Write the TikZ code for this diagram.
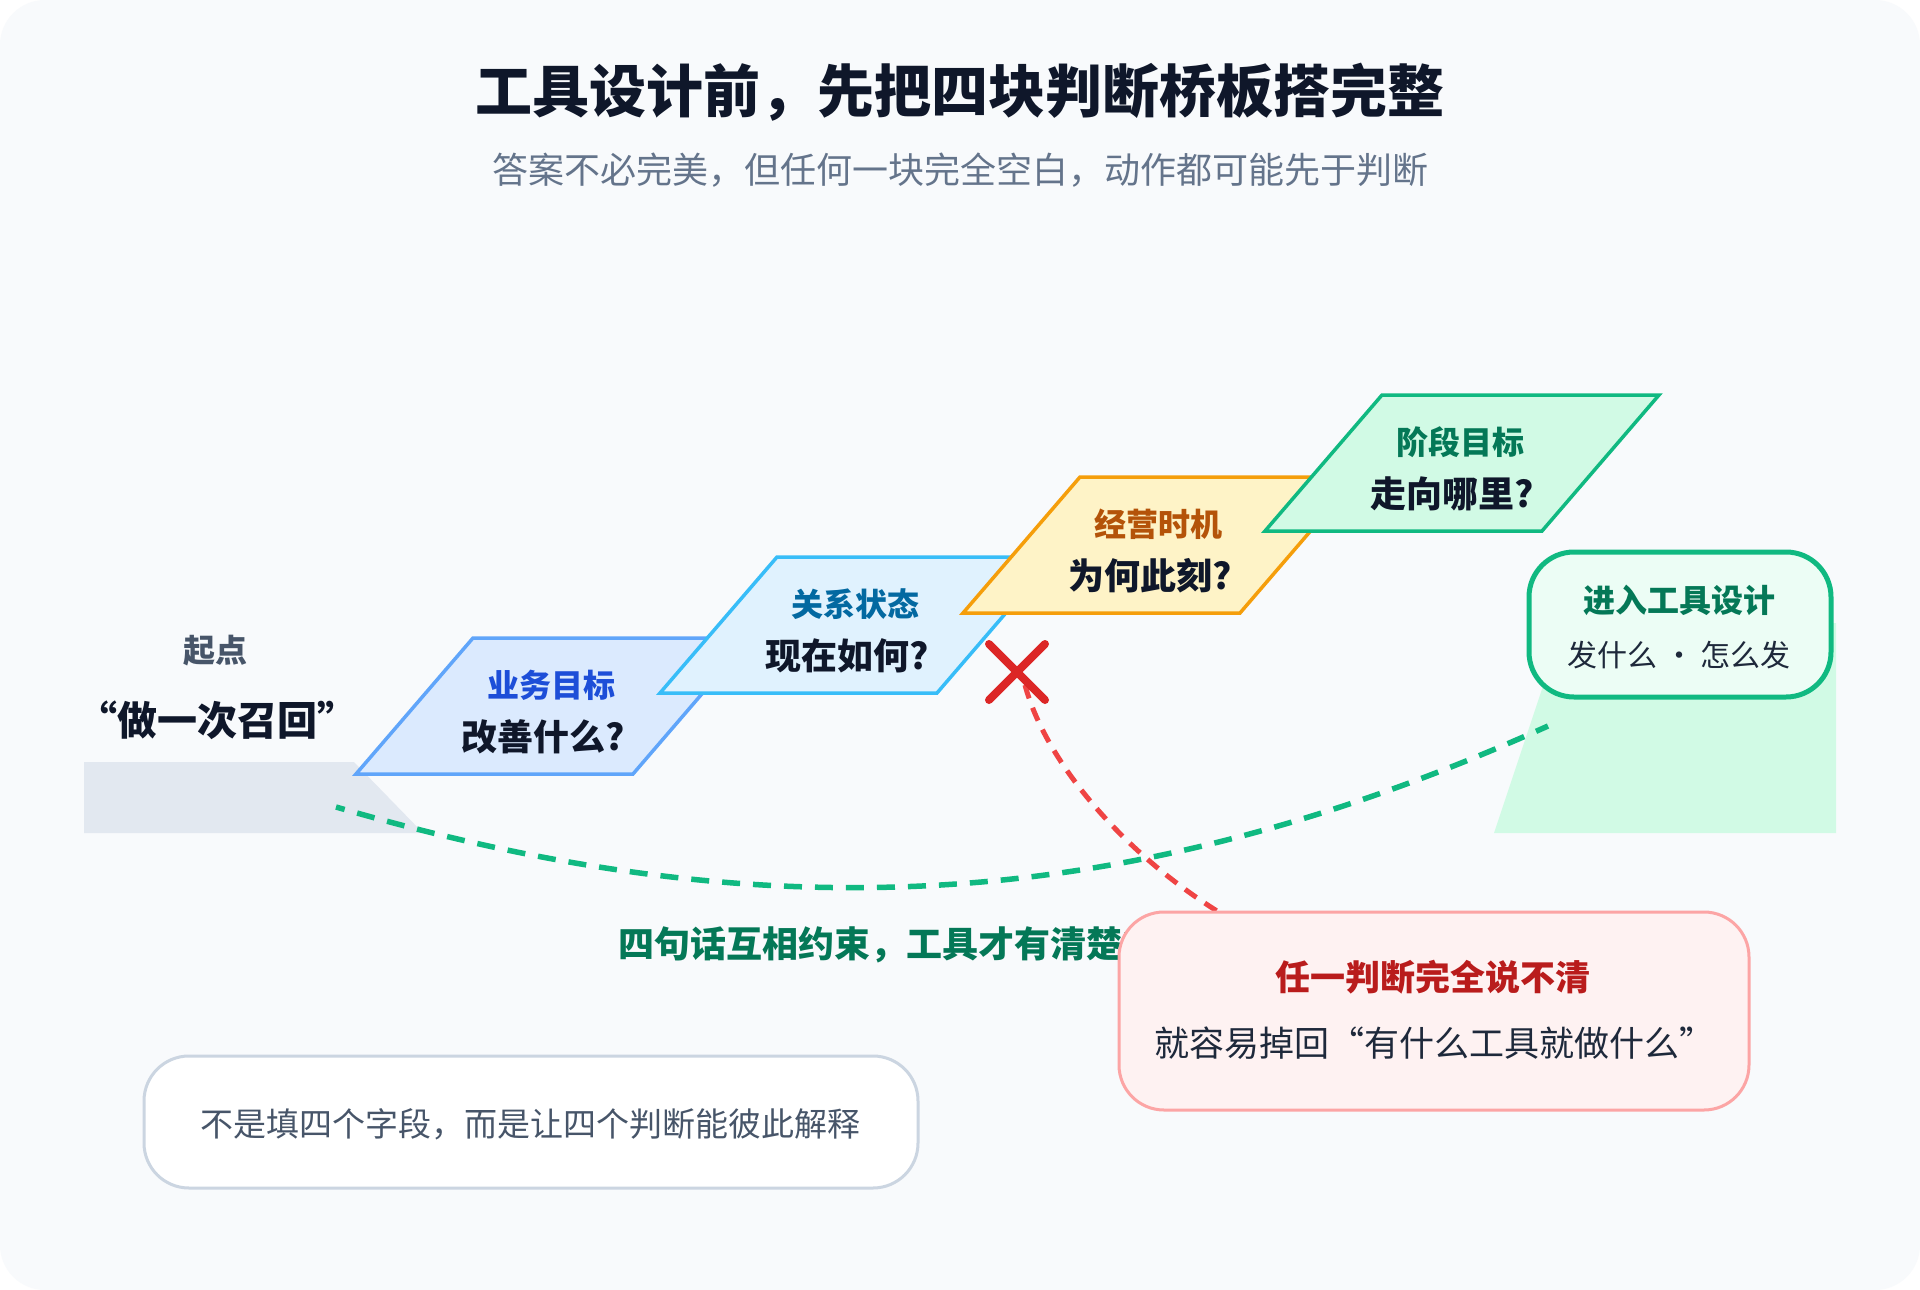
\documentclass[tikz,border=0pt]{standalone}
\usepackage{fontspec}
\setmainfont{Noto Sans CJK SC}
\usetikzlibrary{calc}
\definecolor{cbg}{HTML}{F8FAFC}
\definecolor{ctitle}{HTML}{0F172A}
\definecolor{csub}{HTML}{64748B}
\definecolor{cslate}{HTML}{475569}
\definecolor{cdark}{HTML}{1E293B}
\definecolor{cgraybg}{HTML}{E2E8F0}
\definecolor{pafill}{HTML}{DBEAFE}
\definecolor{padraw}{HTML}{60A5FA}
\definecolor{patext}{HTML}{1D4ED8}
\definecolor{pbfill}{HTML}{E0F2FE}
\definecolor{pbdraw}{HTML}{38BDF8}
\definecolor{pbtext}{HTML}{0369A1}
\definecolor{pcfill}{HTML}{FEF3C7}
\definecolor{pcdraw}{HTML}{F59E0B}
\definecolor{pctext}{HTML}{B45309}
\definecolor{pdfill}{HTML}{D1FAE5}
\definecolor{pddraw}{HTML}{10B981}
\definecolor{pdtext}{HTML}{047857}
\definecolor{cendfill}{HTML}{ECFDF5}
\definecolor{credfill}{HTML}{FEF2F2}
\definecolor{creddraw}{HTML}{FCA5A5}
\definecolor{credtext}{HTML}{B91C1C}
\definecolor{cx}{HTML}{DC2626}
\definecolor{creddash}{HTML}{EF4444}
\definecolor{cnote}{HTML}{CBD5E1}
\tikzset{
  fs/.style={font=\fontsize{#1}{#1}\selectfont},
  fsb/.style={font=\fontsize{#1}{#1}\selectfont\bfseries},
  plank/.style={line width=3.5pt, line join=miter},
  planktitle/.style={fsb=32},
  plankq/.style={fsb=36, text=ctitle},
  gdash/.style={draw=pddraw, line width=5.5pt, dash pattern=on 18pt off 13pt, dash phase=9pt},
  rdash/.style={draw=creddash, line width=5pt, dash pattern=on 14pt off 10pt},
  card/.style={rounded corners=45pt, inner sep=0pt},
}
\newcommand\plankboard[8]{%
  \draw[plank, fill=#4, draw=#5] (#2,#3) -- ++(277,0) -- ++(-117,136) -- ++(-277,0) -- cycle;
  \node[planktitle, text=#6] (#1t) at ({#2+78},{#3+47}) {#7};
  \node[plankq] (#1q) at ({#2+70},{#3+99}) {#8};
}
\begin{document}
\begin{tikzpicture}[x=1pt,y=-1pt, every node/.style={inner sep=0pt, outer sep=0pt}]
\useasboundingbox (0,0) rectangle (1920,1290);
\fill[white] (0,0) rectangle (1920,1290);
\fill[cbg, rounded corners=45pt] (0,0) rectangle (1920,1290);

% title
\node[fsb=57, text=ctitle] (title) at (960,92) {工具设计前，先把四块判断桥板搭完整};
\node[fs=36, text=csub] (subtitle) at (960,170) {答案不必完美，但任何一块完全空白，动作都可能先于判断};

% ground shapes
\fill[cgraybg] (84,762) -- (354,762) -- (423,833) -- (84,833) -- cycle;
\fill[pdfill] (1564,623) -- (1836,623) -- (1836,833) -- (1494,833) -- cycle;

% start
\node[fsb=32, text=cslate] (qidian) at (215,651) {起点};
\node[fsb=40, text=ctitle] (start) at (217,720) {“做一次召回”};

% planks
\plankboard{pa}{473}{638}{pafill}{padraw}{patext}{业务目标}{改善什么?}
\plankboard{pb}{777}{557}{pbfill}{pbdraw}{pbtext}{关系状态}{现在如何?}
\plankboard{pc}{1080}{477}{pcfill}{pcdraw}{pctext}{经营时机}{为何此刻?}
\plankboard{pd}{1382}{395}{pdfill}{pddraw}{pdtext}{阶段目标}{走向哪里?}

% end box
\node[card, draw=pddraw, fill=cendfill, line width=5pt, minimum width=302pt, minimum height=145pt] (endbox) at (1680,624.5) {};
\node[fsb=32, text=pdtext] (endt) at (1679,600) {进入工具设计};
\node[fs=30, text=cdark] (ends) at (1679,655) {发什么 · 怎么发};

% green dashed bridge curve
\coordinate (gs) at (336,807);
\coordinate (ge) at (1548,726);
\draw[gdash] (gs) .. controls (736,923) and (1098,928.5) .. (ge);

% label under the curve
\node[fsb=36, text=pdtext, anchor=west] (lbl) at (618,945) {四句话互相约束，工具才有清楚的边界};

% red x and dashed connector
\node[minimum size=56pt] (xmark) at (1017,672) {};
\coordinate (rs) at (1025,685);
\coordinate (re) at (1217,911);
\draw[rdash] (rs) .. controls (1045,760) and (1120,850) .. (re);
\draw[cx, line width=8pt, line cap=round] (xmark.north west) -- (xmark.south east);
\draw[cx, line width=8pt, line cap=round] (xmark.north east) -- (xmark.south west);

% red box
\node[card, draw=creddraw, fill=credfill, line width=3pt, minimum width=630pt, minimum height=198pt] (redbox) at (1434,1011) {};
\node[fsb=35, text=credtext] (redt) at (1433,977) {任一判断完全说不清};
\node[fs=35, text=cdark] (reds) at (1434,1043) {就容易掉回“有什么工具就做什么”};

% note box
\node[card, draw=cnote, fill=white, line width=3pt, minimum width=774pt, minimum height=132pt] (note) at (531,1122) {};
\node[fs=33, text=cslate] (notet) at (530,1124) {不是填四个字段，而是让四个判断能彼此解释};
\end{tikzpicture}
\end{document}
